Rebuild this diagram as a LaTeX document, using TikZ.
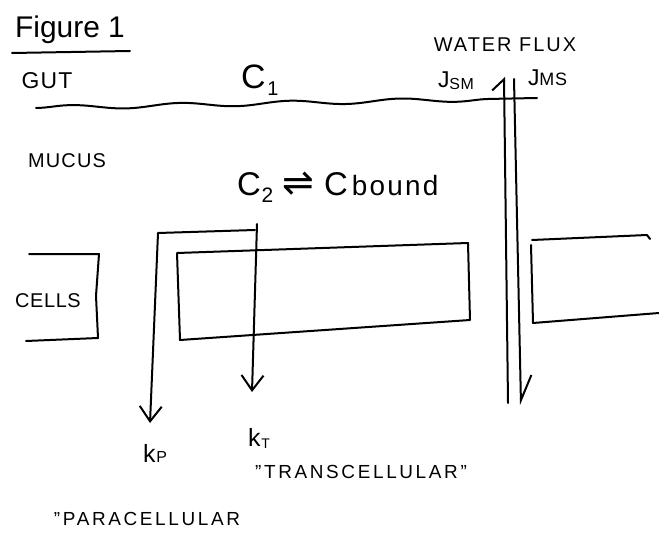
\documentclass[tikz,border=0pt]{standalone}
\usepackage{fontspec}
\setmainfont{Liberation Sans}
\newfontfamily\symf{DejaVu Sans}
\usetikzlibrary{arrows.meta,decorations.pathmorphing}
\newcommand{\fs}[1]{\fontsize{#1}{#1}\selectfont}
\newcommand{\ls}[1]{\addfontfeature{LetterSpace=#1}}
\begin{document}
\begin{tikzpicture}[x=1bp,y=-1bp,line width=2bp,line cap=round,line join=round,
  lbl/.style={inner sep=0pt,text=black},
  vtip/.style={-{Straight Barb[length=15bp,width=22bp]}},
  harpup/.style={-{Straight Barb[harpoon,length=11bp,width=24bp]}},
  harpdn/.style={-{Straight Barb[harpoon,length=25bp,width=22bp]}},
  wave/.style={decorate,decoration={snake,amplitude=2.2bp,segment length=110bp}}]
\useasboundingbox (0,0) rectangle (659,541);
% texts
\node[lbl] (fig) at (70,30) {\fs{30}Figure 1};
\coordinate (ul1) at (12,53); \coordinate (ul2) at (130,51);
\draw (ul1) -- (ul2);
\node[lbl] (gut) at (47,81) {\fs{23}\ls{5}GUT};
\node[lbl,anchor=base west] (c1) at (240,89) {\fs{34}C\hspace{2bp}\raisebox{-7bp}{\fs{20}1}};
\node[lbl] (water) at (505,45) {\fs{20}\ls{10}WATER FLUX};
\node[lbl,anchor=base west] (jsm) at (437,88) {\fs{23}J\raisebox{-2bp}{\fs{16}\ls{4}SM}};
\node[lbl,anchor=base west] (jms) at (527,86) {\fs{23}J\fs{18}\ls{4}MS};
\node[lbl] (mucus) at (67,161) {\fs{20}\ls{6}MUCUS};
\node[lbl] (cells) at (48,301) {\fs{20}\ls{3}CELLS};
\node[lbl,anchor=base west] (eq) at (236,196) {\fs{33}C\hspace{1bp}\raisebox{-7bp}{\fs{21}2}\hspace{9bp}{\symf\fs{38}⇌}\hspace{10bp}C\hspace{4bp}{\fs{28}\ls{8}bound}};
\node[lbl,anchor=base west] (kp) at (142,462) {\fs{25}k\hspace{1bp}{\fs{16}P}};
\node[lbl,anchor=base west] (kt) at (247,446) {\fs{25}k\hspace{1bp}\raisebox{-2bp}{\fs{14}T}};
\node[lbl] (trans) at (361,472) {\fs{19}\ls{14}"TRANSCELLULAR"};
\node[lbl] (para) at (147,519) {\fs{19}\ls{14}"PARACELLULAR};
% gut surface
\coordinate (wl) at (36,108); \coordinate (wr) at (537,98);
\draw[wave] (wl) -- (wr);
% cells
\coordinate (lb1) at (29,254); \coordinate (lb2) at (99,254);
\coordinate (lb3) at (96,296); \coordinate (lb4) at (98,338); \coordinate (lb5) at (26,341);
\draw (lb1) -- (lb2) -- (lb3) -- (lb4) -- (lb5);
\coordinate (mb1) at (177,253); \coordinate (mb2) at (468,243);
\coordinate (mb3) at (470,320); \coordinate (mb4) at (180,340);
\draw (mb1) -- (mb2) -- (mb3) -- (mb4) -- cycle;
\coordinate (rb0) at (650,239); \coordinate (rb1) at (647,235); \coordinate (rb2) at (532,240);
\draw (rb0) -- (rb1) -- (rb2);
\coordinate (rb3) at (531,245); \coordinate (rb4) at (533,323); \coordinate (rb5) at (659,313);
\draw (rb3) -- (rb4) -- (rb5);
% water flux
\coordinate (wlt) at (504,77); \coordinate (wlb) at (508,403);
\coordinate (wrt) at (514,79); \coordinate (wrb) at (521,405);
\draw[harpup] (wlb) -- (wlt);
\draw[harpdn] (wrt) -- (wrb);
% transcellular
\coordinate (tt) at (257,224); \coordinate (te) at (252,392);
\draw[vtip] (tt) -- (te);
% paracellular
\coordinate (p1) at (255,230); \coordinate (p2) at (158,233); \coordinate (pe) at (150,423);
\draw[vtip] (p1) -- (p2) -- (pe);
\end{tikzpicture}
\end{document}
